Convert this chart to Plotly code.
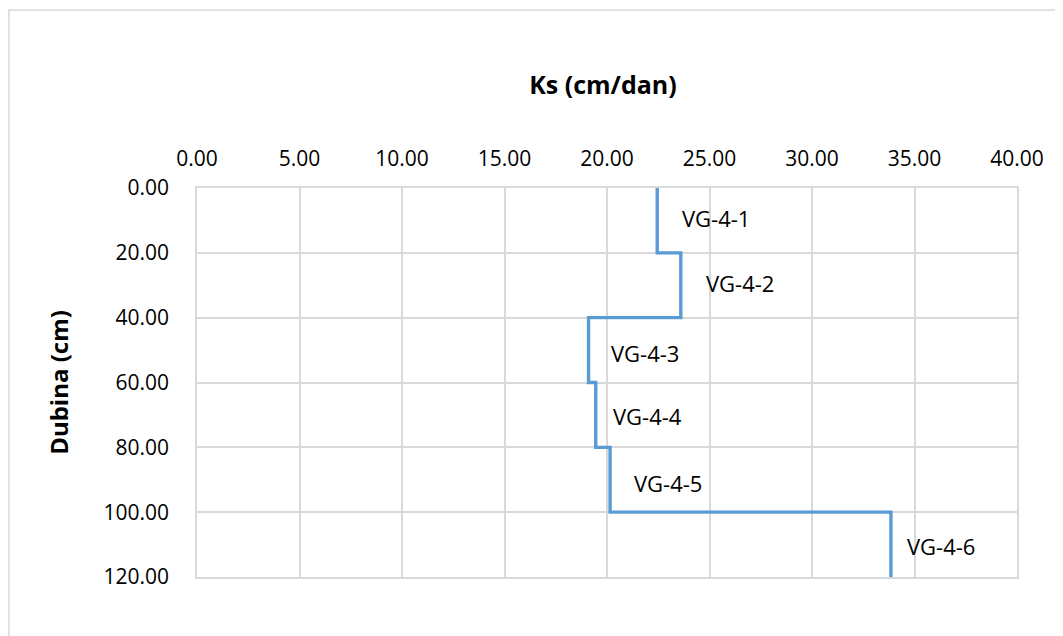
import plotly.graph_objects as go

labels = ["VG-4-1", "VG-4-2", "VG-4-3", "VG-4-4", "VG-4-5", "VG-4-6"]
ks_values = [22.45, 23.6, 19.1, 19.45, 20.15, 33.85]
depth_top = [0, 20, 40, 60, 80, 100]
depth_bottom = [20, 40, 60, 80, 100, 120]
x_ticks = [0, 5, 10, 15, 20, 25, 30, 35, 40]
y_ticks = [0, 20, 40, 60, 80, 100, 120]

# step line built from the arrays
xs, ys = [], []
for v, t, b in zip(ks_values, depth_top, depth_bottom):
    xs += [v, v]
    ys += [t, b]

FONT = "Open Sans"
W, H = 1063, 636
OFF = 8  # page body margin
PL, PR, PT, PB = 197, 1017, 188, 577  # plot area in page px
ML = PL - OFF
MR = W + OFF - PR
MT = PT - OFF
MB = H + OFF - PB
PW, PH = PR - PL, PB - PT

fig = go.Figure()
fig.add_trace(go.Scatter(x=xs, y=ys, mode="lines",
                         line=dict(color="#5B9BD5", width=3.4),
                         hoverinfo="skip", showlegend=False))

label_shift = [23, 23, 20, 15, 22, 14]
label_y_off = [-0.7, -0.7, 1.0, 0.3, 1.0, 0.3]
for lab, v, t, b, sh, dy in zip(labels, ks_values, depth_top, depth_bottom, label_shift, label_y_off):
    fig.add_annotation(x=v, y=(t + b) / 2 + dy, text=lab, showarrow=False,
                       xanchor="left", yanchor="middle", xshift=sh,
                       font=dict(family=FONT, size=22, color="#000000"))

# outer chart border
fig.add_shape(type="rect", xref="paper", yref="paper",
              x0=(9 - PL) / PW, x1=(W + 40 - PL) / PW,
              y0=-(H + 40 - PB) / PH, y1=1 + (PT - 10) / PH,
              line=dict(color="#D9D9D9", width=1.5), layer="below")

fig.update_layout(
    width=W, height=H,
    margin=dict(l=ML, r=MR, t=MT, b=MB),
    paper_bgcolor="white", plot_bgcolor="white",
    title=dict(text="<b>Ks (cm/dan)</b>", x=(603 - OFF) / W, xanchor="center",
               y=1 - (85 - OFF) / H, yanchor="middle",
               font=dict(family=FONT, size=25, color="#000000")),
    xaxis=dict(side="top", range=[0, 40], tickvals=x_ticks,
               ticktext=[f"{v:.2f}" for v in x_ticks],
               showgrid=True, gridcolor="#D9D9D9", gridwidth=1.5,
               zeroline=False, showline=True, linecolor="#D9D9D9", linewidth=1.5,
               mirror=True, ticks="", ticklabelstandoff=12,
               tickfont=dict(family=FONT, size=21, color="#000000")),
    yaxis=dict(range=[120, 0], tickvals=y_ticks,
               ticktext=[f"{v:.2f}" for v in y_ticks],
               showgrid=True, gridcolor="#D9D9D9", gridwidth=1.5,
               zeroline=False, showline=True, linecolor="#D9D9D9", linewidth=1.5,
               mirror=True, ticks="", ticklabelstandoff=22,
               title=dict(text="<b>Dubina (cm)</b>", standoff=28,
                          font=dict(family=FONT, size=24, color="#000000")),
               tickfont=dict(family=FONT, size=21, color="#000000")),
)
fig.write_html("out.html")
